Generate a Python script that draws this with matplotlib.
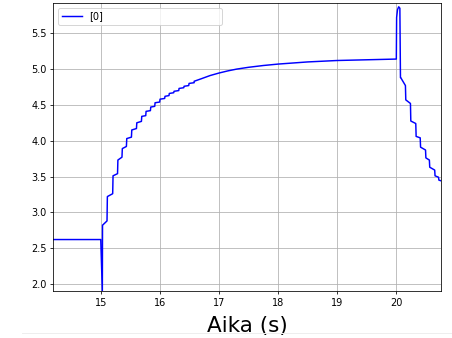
import matplotlib
matplotlib.use("Agg")
import matplotlib.pyplot as plt
from matplotlib.lines import Line2D

# --- data ---
t_start = [14.198, 15.0]
v_start = [2.62, 2.62]

dip_t = [15.027]
dip_v = [1.89]

rise_t = [15.03, 15.112, 15.208, 15.29, 15.365, 15.44, 15.525, 15.61, 15.694,
          15.767, 15.846, 15.919, 16.003, 16.087, 16.16, 16.24, 16.325, 16.41, 16.494]
rise_top = [2.82, 3.22, 3.51, 3.73, 3.89, 4.03, 4.15, 4.25, 4.34,
            4.41, 4.47, 4.53, 4.58, 4.62, 4.66, 4.69, 4.73, 4.76, 4.80]
rise_end = [2.88, 3.26, 3.54, 3.77, 3.92, 4.05, 4.17, 4.27, 4.35,
            4.42, 4.48, 4.54, 4.59, 4.63, 4.67, 4.70, 4.74, 4.77, 4.81]

smooth_t = [16.58, 16.7, 16.85, 17.0, 17.15, 17.3, 17.5, 17.75, 18.0, 18.5, 19.0, 19.5, 20.0]
smooth_v = [4.83, 4.865, 4.91, 4.945, 4.975, 5.0, 5.025, 5.05, 5.07, 5.10, 5.12, 5.13, 5.14]

spike_t = [20.005, 20.02, 20.04, 20.06, 20.07]
spike_v = [5.72, 5.83, 5.87, 5.85, 4.88]

fall_t = [20.075, 20.16, 20.245, 20.335, 20.41, 20.50, 20.565, 20.655, 20.72]
fall_top = [4.88, 4.57, 4.275, 4.06, 3.91, 3.76, 3.63, 3.51, 3.45]
fall_end = [4.77, 4.52, 4.24, 4.04, 3.87, 3.73, 3.59, 3.49, 3.44]

t_last = 20.756
x_ticks = [15, 16, 17, 18, 19, 20]
y_ticks = [2.0, 2.5, 3.0, 3.5, 4.0, 4.5, 5.0, 5.5]
series_label = "[0]"
x_label = "Aika (s)"

# --- build polyline vertices ---
xs = list(t_start) + list(dip_t)
ys = list(v_start) + list(dip_v)
for i, t in enumerate(rise_t):
    xs.append(t); ys.append(rise_top[i])
    t_next = rise_t[i + 1] - 0.006 if i + 1 < len(rise_t) else smooth_t[0]
    xs.append(t_next); ys.append(rise_end[i])
xs += smooth_t; ys += smooth_v
xs += spike_t; ys += spike_v
for i, t in enumerate(fall_t):
    xs.append(t); ys.append(fall_top[i])
    t_next = fall_t[i + 1] - 0.006 if i + 1 < len(fall_t) else t_last
    xs.append(t_next); ys.append(fall_end[i])

dpi = 70.6
fig = plt.figure(figsize=(452 / dpi, 338 / dpi), dpi=dpi)
ax = fig.add_axes([0.118, 0.140, 0.8577, 0.852])
ax.plot(xs, ys, color="blue", linewidth=1.5, label=series_label)
ax.set_xlim(14.198, 20.756)
ax.set_ylim(1.906, 5.927)
ax.set_xticks(x_ticks)
ax.set_yticks(y_ticks)
ax.grid(True, color="#b0b0b0", linewidth=0.8)
ax.set_xlabel(x_label, fontsize=22, labelpad=9)
ax.legend(loc="upper left", bbox_to_anchor=(0, 0, 0.448, 1), mode="expand")

fig.add_artist(Line2D([22 / 452, 1], [1 - 332.7 / 338, 1 - 332.7 / 338],
                      color="#eeeeee", linewidth=1, transform=fig.transFigure))

fig.savefig("out.png", dpi=dpi)
